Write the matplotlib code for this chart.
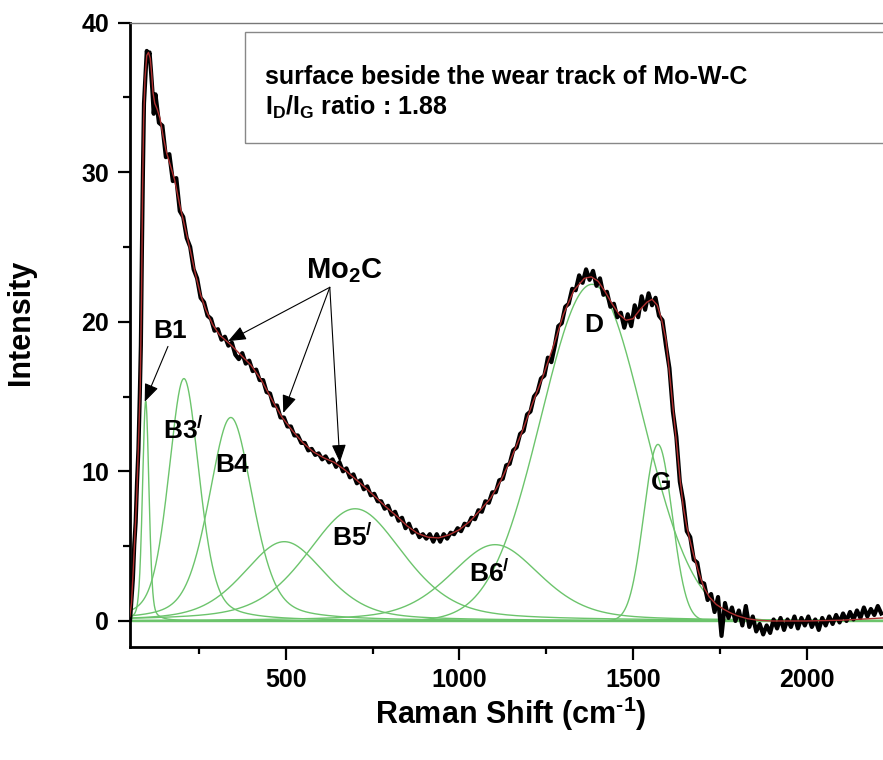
import numpy as np
import matplotlib
matplotlib.use("Agg")
import matplotlib.pyplot as plt
from matplotlib.patches import Rectangle

plt.rcParams["font.family"] = ["Liberation Sans", "DejaVu Sans"]
plt.rcParams["font.weight"] = "bold"
plt.rcParams["mathtext.fontset"] = "custom"
plt.rcParams["mathtext.rm"] = "Liberation Sans"
plt.rcParams["mathtext.it"] = "Liberation Sans:bold"
plt.rcParams["mathtext.bf"] = "Liberation Sans:bold"

# ---- measured spectrum (Raman shift in cm^-1, intensity in a.u.) ----
obs_shift = [52, 56, 60, 64, 68, 72, 76, 80, 83, 86, 89, 92, 96, 100, 104, 108, 112, 116, 120] \
    + list(range(125, 2216, 10))
obs_intensity = [
    0.1, 1.4, 2.8, 5.1, 6.6, 9.3, 11.5, 15.2, 18.4, 24.8, 30.1, 34.6, 36.3, 38.1,
    37.7, 38.0, 36.8, 35.5, 33.9,
    35.2, 33.3, 33.1, 31.0, 31.2, 29.4, 29.6, 27.4, 27.0, 25.6,     # 125-215
    25.0, 23.5, 22.9, 21.6, 21.3, 20.4, 20.2, 19.4, 19.5, 18.8,     # 225-315
    19.0, 18.4, 18.6, 17.8, 17.5, 17.9, 17.2, 17.4, 16.7, 16.8,     # 325-415
    16.1, 16.1, 15.3, 15.2, 14.4, 14.4, 13.6, 13.6, 13.0, 13.0,     # 425-515
    12.4, 12.4, 11.9, 11.9, 11.4, 11.5, 11.1, 11.2, 10.8, 11.0,     # 525-615
    10.6, 10.8, 10.3, 10.6, 10.0, 10.2, 9.6, 9.8, 9.2, 9.4,         # 625-715
    8.8, 9.0, 8.4, 8.5, 8.0, 8.0, 7.5, 7.7, 7.1, 7.3,               # 725-815
    6.7, 6.9, 6.2, 6.5, 5.9, 6.1, 5.6, 5.8, 5.5, 5.8,               # 825-915
    5.3, 5.8, 5.3, 5.8, 5.5, 5.9, 5.8, 6.2, 6.0, 6.5,               # 925-1015
    6.4, 6.9, 6.8, 7.4, 7.3, 8.0, 7.9, 8.6, 8.6, 9.4,               # 1025-1115
    9.5, 10.4, 10.5, 11.4, 11.6, 12.5, 12.7, 13.8, 14.0, 15.0,      # 1125-1215
    15.3, 16.2, 16.4, 17.6, 17.3, 18.4, 19.7, 19.9, 21.0, 21.2,     # 1225-1315
    22.2, 22.1, 23.1, 22.6, 23.5, 22.8, 23.4, 22.4, 22.9, 21.8,     # 1325-1415
    22.0, 21.0, 21.2, 20.3, 20.6, 19.6, 20.5, 19.7, 21.1, 20.3,     # 1425-1515
    21.7, 20.8, 21.9, 21.1, 21.6, 20.4, 20.1, 18.4, 16.9, 14.0,     # 1525-1615
    12.3, 9.3, 8.0, 6.0, 5.6, 4.1, 3.9, 2.6, 2.5, 1.4,              # 1625-1715
    1.8, 0.6, 1.6, -1.0, 1.2, 0.2, 0.9, 0.0, 0.7, -0.3,             # 1725-1815
    1.0, -0.4, 0.3, -0.7, -0.2, -0.9, -0.3, -0.8, 0.1, -0.5,        # 1825-1915
    0.2, -0.6, 0.1, -0.4, 0.3, -0.5, 0.2, -0.3, 0.3, -0.4,          # 1925-2015
    0.1, -0.6, 0.2, -0.3, 0.3, -0.2, 0.4, -0.1, 0.5, 0.0,           # 2025-2115
    0.6, 0.1, 0.7, 0.2, 0.9, 0.3, 0.8, 0.4, 1.0, 0.5,               # 2125-2215
]

# ---- cumulative fit curve ----
fit_shift = [51, 56, 61, 66, 71, 76, 81, 85, 88, 91, 95, 100, 105, 110, 114, 118, 123, 130, 138,
             147, 157, 166, 180, 195, 210, 225, 240, 255, 270, 290, 310, 340, 370, 400, 430,
             460, 490, 520, 550, 580, 610, 640, 670, 700, 730, 760, 790, 820, 850, 880, 910,
             940, 970, 1000, 1030, 1060, 1090, 1120, 1150, 1180, 1210, 1240, 1270, 1300, 1330,
             1360, 1380, 1400, 1420, 1440, 1460, 1480, 1500, 1520, 1540, 1555, 1570, 1583, 1595,
             1605, 1615, 1625, 1635, 1645, 1655, 1665, 1675, 1690, 1705, 1720, 1740, 1760, 1780,
             1800, 1830, 1860, 1900, 2000, 2100, 2220]
fit_intensity = [0.3, 1.2, 3.4, 5.8, 8.3, 11.8, 15.5, 22.0, 29.0, 33.5, 36.3, 37.8, 38.0, 37.6,
                 36.6, 35.3, 34.6, 34.2, 33.6, 32.4, 31.3, 30.6, 29.5, 27.8, 26.3, 24.8, 23.2,
                 21.8, 20.8, 19.8, 19.1, 18.5, 17.8, 17.1, 16.1, 14.8, 13.6, 12.7, 11.9, 11.3,
                 10.9, 10.6, 10.1, 9.5, 8.9, 8.25, 7.6, 7.0, 6.35, 5.85, 5.6, 5.55, 5.75, 6.1,
                 6.65, 7.4, 8.2, 9.4, 10.9, 12.6, 14.5, 16.3, 18.3, 20.5, 22.1, 22.9, 23.0, 22.7,
                 22.0, 21.2, 20.5, 20.1, 20.2, 20.8, 21.3, 21.5, 21.1, 20.1, 18.8, 16.6, 14.3,
                 12.0, 9.6, 7.6, 6.3, 5.3, 4.4, 3.2, 2.2, 1.6, 1.1, 0.8, 0.55, 0.35, 0.15, 0.05,
                 0.0, 0.0, 0.05, 0.2]

# ---- fitted band components ----
peak_centre = [97, 207, 342, 496, 700, 1103, 1382, 1572]
peak_height = [14.7, 16.2, 13.6, 5.3, 7.5, 5.1, 22.5, 11.8]
peak_fwhm = [22, 105, 150, 280, 330, 310, 345, 96]
peak_lorentz = [0.3, 0.4, 0.4, 0.4, 0.4, 0.4, 0.0, 0.0]

band_labels = ["B1", "B3$^{/}$", "B4", "B5$^{/}$", "B6$^{/}$", "D", "G"]
band_label_x = [166, 205, 345, 691, 1088, 1388, 1581]
band_label_y = [19.4, 12.75, 10.4, 5.6, 3.2, 19.8, 9.2]

X_MIN, X_MAX = 51.7, 2220
Y_MIN, Y_MAX = -1.74, 40


def band_profile(x, centre, height, fwhm, eta):
    u = (x - centre) / fwhm
    gauss = np.exp(-4.0 * np.log(2.0) * u ** 2)
    lorentz = 1.0 / (1.0 + 4.0 * u ** 2)
    return height * (eta * lorentz + (1.0 - eta) * gauss)


fig = plt.figure(figsize=(8.83, 7.6), dpi=100)
ax = fig.add_axes([130 / 883, 1 - 647 / 760, (883 - 130) / 883, (647 - 22.5) / 760])

green = "#6cc46c"
xs = np.linspace(X_MIN, X_MAX, 3000)
for c, h, w, eta in zip(peak_centre, peak_height, peak_fwhm, peak_lorentz):
    ax.plot(xs, band_profile(xs, c, h, w, eta), color=green, lw=1.0, zorder=2)
ax.axhline(0, color=green, lw=1.0, zorder=2)

ax.plot(obs_shift, obs_intensity, color="black", lw=3.0, zorder=3, solid_joinstyle="round")
ax.plot(fit_shift, fit_intensity, color="#b03030", lw=1.0, zorder=4)

ax.set_xlim(X_MIN, X_MAX)
ax.set_ylim(Y_MIN, Y_MAX)
ax.set_xticks([500, 1000, 1500, 2000])
ax.set_xticks([250, 750, 1250, 1750], minor=True)
ax.set_yticks([0, 10, 20, 30, 40])
ax.set_yticks([5, 15, 25, 35], minor=True)
ax.tick_params(which="major", direction="out", length=9, width=1.6, labelsize=18, pad=6)
ax.tick_params(which="minor", direction="out", length=5, width=1.6)
for side in ("left", "bottom"):
    ax.spines[side].set_linewidth(2.0)
ax.spines["top"].set_linewidth(1.0)
ax.spines["top"].set_color("#777777")
ax.spines["right"].set_visible(False)

ax.set_xlabel("Raman Shift (cm$^{\\mathbf{\\text{-}1}}$)", fontsize=22, fontweight="bold")
ax.set_ylabel("Intensity", fontsize=22, fontweight="bold")
ax.xaxis.set_label_coords(0.505, -0.077)
ax.yaxis.set_label_coords(-0.125, 0.52)

for text, x, y in zip(band_labels, band_label_x, band_label_y):
    ax.text(x, y, text, fontsize=19, fontweight="bold", ha="center", va="center", zorder=6)

arrow_style = dict(arrowstyle="-|>,head_length=0.55,head_width=0.22", color="black",
                   lw=0.8, shrinkA=0, shrinkB=0, mutation_scale=20)
ax.annotate("", xy=(94, 14.65), xytext=(161, 18.35), arrowprops=arrow_style, zorder=6)
ax.text(668, 23.4, "Mo$_{\\mathbf{2}}$C", fontsize=21, fontweight="bold", ha="center",
        va="center", zorder=6)
for tip_x, tip_y in [(334, 18.7), (493, 13.9), (656, 10.6)]:
    ax.annotate("", xy=(tip_x, tip_y), xytext=(627, 22.3), arrowprops=arrow_style, zorder=6)

fig.patches.append(Rectangle((245 / 883, 1 - 143 / 760), 0.8, (143 - 31.7) / 760,
                             transform=fig.transFigure, fill=False, edgecolor="#888888",
                             lw=1.0, zorder=5))
fig.text(265 / 883, 1 - 84 / 760, "surface beside the wear track of Mo-W-C", fontsize=18,
         fontweight="bold", ha="left", va="baseline")
fig.text(265 / 883, 1 - 115 / 760, "$\\mathbf{I_D/I_G}$ ratio : 1.88", fontsize=18,
         fontweight="bold", ha="left", va="baseline")

fig.savefig("out.png", dpi=100)
